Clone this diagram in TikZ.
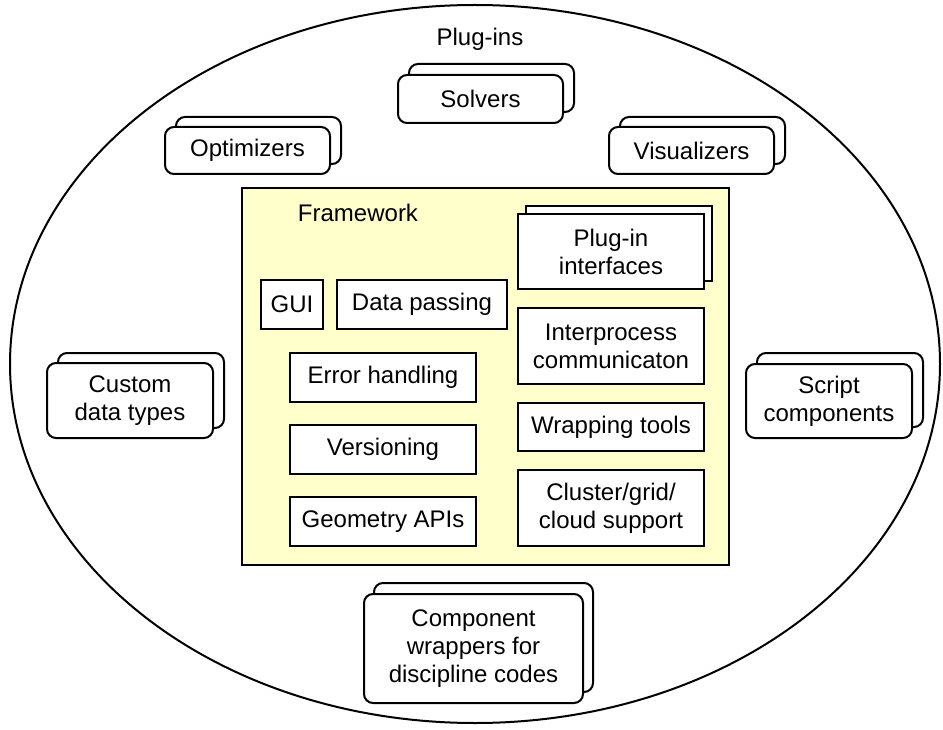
\documentclass[tikz,border=0pt]{standalone}
\usepackage{fontspec}
\setmainfont{Liberation Sans}
\usetikzlibrary{shapes.geometric}
\definecolor{fwyellow}{HTML}{FFFFCC}
\begin{document}
\begin{tikzpicture}[x=1pt,y=-1pt,
  txt/.style={font=\fontsize{24}{28}\selectfont, text=black},
  plug/.style={txt, draw=black, line width=2pt, fill=white, rounded corners=9pt,
    align=center, inner sep=0pt},
  plugback/.style={draw=black, line width=2pt, fill=white, rounded corners=9pt, inner sep=0pt},
  inbox/.style={txt, draw=black, line width=2.3pt, fill=white, align=center, inner sep=0pt},
  inback/.style={draw=black, line width=2.3pt, fill=white, inner sep=0pt}
]
\useasboundingbox (0,0) rectangle (943,730);
% outer ellipse
\node[ellipse, draw=black, line width=2pt, minimum width=930, minimum height=718, inner sep=0pt] (ell) at (475,364) {};
\node[txt] (plugins) at (480,39) {Plug-ins};

% plug-in stacks
\node[plugback, minimum width=165, minimum height=48] (solvb) at (491.5,88) {};
\node[plug, minimum width=165, minimum height=48] (solv) at (480.5,99) {Solvers};

\node[plugback, minimum width=165, minimum height=47] (optb) at (258.5,140.5) {};
\node[plug, minimum width=165, minimum height=47] (opt) at (247.5,150.5) {Optimizers};

\node[plugback, minimum width=165, minimum height=47] (visb) at (702.5,140.5) {};
\node[plug, minimum width=165, minimum height=47] (vis) at (691.5,150.5) {Visualizers};

\node[plugback, minimum width=166, minimum height=75] (cdtb) at (141,390.5) {};
\node[plug, minimum width=166, minimum height=75] (cdt) at (130,400.5) {Custom\\data types};

\node[plugback, minimum width=166, minimum height=74] (scrb) at (840,390) {};
\node[plug, minimum width=166, minimum height=74] (scr) at (829,401) {Script\\components};

\node[plugback, minimum width=219, minimum height=109] (cwb) at (483.5,637.5) {};
\node[plug, minimum width=219, minimum height=109] (cw) at (473.5,648.5) {Component\\wrappers for\\discipline codes};

% framework
\node[draw=black, line width=2.3pt, fill=fwyellow, minimum width=487, minimum height=377, inner sep=0pt] (fw) at (485.5,376.5) {};
\node[txt] (fwlabel) at (358,213) {Framework};

\node[inback, minimum width=186, minimum height=75] (pib) at (619,243.5) {};
\node[inbox, minimum width=186, minimum height=75] (pi) at (611,251.5) {Plug-in\\interfaces};

\node[inbox, minimum width=62, minimum height=49] (gui) at (292,304.5) {GUI};
\node[inbox, minimum width=170, minimum height=49] (dp) at (422,304.5) {Data passing};
\node[inbox, minimum width=186, minimum height=49] (eh) at (383,377.5) {Error handling};
\node[inbox, minimum width=186, minimum height=49] (ver) at (383,449.5) {Versioning};
\node[inbox, minimum width=186, minimum height=49] (geo) at (383,521.5) {Geometry APIs};

\node[inbox, minimum width=186, minimum height=76] (ipc) at (611,346) {Interprocess\\communicaton};
\node[inbox, minimum width=186, minimum height=48] (wt) at (611,427) {Wrapping tools};
\node[inbox, minimum width=186, minimum height=76] (cl) at (611,508) {Cluster/grid/\\cloud support};
\end{tikzpicture}
\end{document}
